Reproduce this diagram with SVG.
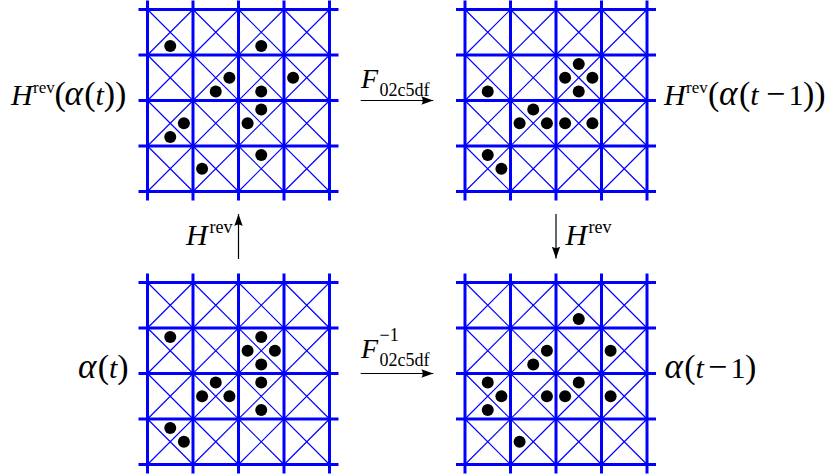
<svg xmlns="http://www.w3.org/2000/svg" width="826" height="476" viewBox="0 0 826 476">
<style>
.thick{stroke:#0000ff;stroke-width:3;fill:none}
.thin{stroke:#0000ff;stroke-width:1.2;fill:none}
.dots circle{fill:#000}
.lbl{font-family:"Liberation Serif","Times New Roman",serif;font-size:30px;fill:#000}
.sm{font-size:18px}
.sp{font-size:17px}
.pa{font-size:34px}
.al{font-size:35px;font-style:italic}
.mi{font-size:34px}
.it{font-style:italic}
.arr{stroke:#000;stroke-width:1.2;fill:none;marker-end:url(#ah)}
</style>
<defs>
<marker id="ah" markerUnits="userSpaceOnUse" markerWidth="14" markerHeight="10" refX="12" refY="5" orient="auto"><path d="M12,5 L0,0.8 Q3,5 0,9.2 Z" fill="#000"/></marker>
<g id="lattice">
<path class="thin" d="M0,0L182,182 M45.5,0L182,136.5 M91,0L182,91 M136.5,0L182,45.5 M0,45.5L136.5,182 M0,91L91,182 M0,136.5L45.5,182 M0,182L182,0 M0,136.5L136.5,0 M0,91L91,0 M0,45.5L45.5,0 M45.5,182L182,45.5 M91,182L182,91 M136.5,182L182,136.5"/>
<path class="thick" d="M-9,0H191 M-9,45.5H191 M-9,91H191 M-9,136.5H191 M-9,182H191 M0,-9V191 M45.5,-9V191 M91,-9V191 M136.5,-9V191 M182,-9V191"/>
</g>
</defs>

<g id="grid-top-left" transform="translate(147.5,9.5)">
<use href="#lattice"/>
<g class="dots">
<circle cx="22.75" cy="36.4" r="6"/><circle cx="113.75" cy="36.4" r="6"/>
<circle cx="81.9" cy="68.25" r="6"/><circle cx="145.6" cy="68.25" r="6"/>
<circle cx="68.25" cy="81.9" r="6"/><circle cx="113.75" cy="81.9" r="6"/>
<circle cx="113.75" cy="100.1" r="6"/><circle cx="36.4" cy="113.75" r="6"/>
<circle cx="100.1" cy="113.75" r="6"/><circle cx="22.75" cy="127.4" r="6"/>
<circle cx="113.75" cy="145.6" r="6"/><circle cx="54.6" cy="159.25" r="6"/>
</g>
</g>

<g id="grid-top-right" transform="translate(465,9.5)">
<use href="#lattice"/>
<g class="dots">
<circle cx="113.75" cy="54.6" r="6"/><circle cx="100.1" cy="68.25" r="6"/>
<circle cx="127.4" cy="68.25" r="6"/><circle cx="113.75" cy="81.9" r="6"/>
<circle cx="22.75" cy="81.9" r="6"/><circle cx="68.25" cy="100.1" r="6"/>
<circle cx="54.6" cy="113.75" r="6"/><circle cx="81.9" cy="113.75" r="6"/>
<circle cx="100.1" cy="113.75" r="6"/><circle cx="127.4" cy="113.75" r="6"/>
<circle cx="22.75" cy="145.6" r="6"/><circle cx="36.4" cy="159.25" r="6"/>
</g>
</g>

<g id="grid-bottom-left" transform="translate(147.5,282.5)">
<use href="#lattice"/>
<g class="dots">
<circle cx="22.75" cy="54.6" r="6"/><circle cx="113.75" cy="54.6" r="6"/>
<circle cx="100.1" cy="68.25" r="6"/><circle cx="127.4" cy="68.25" r="6"/>
<circle cx="113.75" cy="81.9" r="6"/><circle cx="113.75" cy="100.1" r="6"/>
<circle cx="68.25" cy="100.1" r="6"/><circle cx="54.6" cy="113.75" r="6"/>
<circle cx="81.9" cy="113.75" r="6"/><circle cx="113.75" cy="127.4" r="6"/>
<circle cx="22.75" cy="145.6" r="6"/><circle cx="36.4" cy="159.25" r="6"/>
</g>
</g>

<g id="grid-bottom-right" transform="translate(465,282.5)">
<use href="#lattice"/>
<g class="dots">
<circle cx="113.75" cy="36.4" r="6"/><circle cx="81.9" cy="68.25" r="6"/>
<circle cx="68.25" cy="81.9" r="6"/><circle cx="145.6" cy="68.25" r="6"/>
<circle cx="22.75" cy="100.1" r="6"/><circle cx="36.4" cy="113.75" r="6"/>
<circle cx="22.75" cy="127.4" r="6"/><circle cx="113.75" cy="100.1" r="6"/>
<circle cx="81.9" cy="113.75" r="6"/><circle cx="100.1" cy="113.75" r="6"/>
<circle cx="145.6" cy="113.75" r="6"/><circle cx="54.6" cy="159.25" r="6"/>
</g>
</g>

<g id="labels" class="lbl">
<text id="label-top-left" y="105"><tspan class="it" x="11">H</tspan><tspan class="sp" x="33" y="93">rev</tspan><tspan class="pa" x="54.5" y="105">(</tspan><tspan class="al" x="64.5">α</tspan><tspan class="pa" x="84.2">(</tspan><tspan class="it" x="95.5">t</tspan><tspan class="pa" x="103.8">)</tspan><tspan class="pa" x="115.1">)</tspan></text>
<text id="label-top-right" y="105"><tspan class="it" x="664">H</tspan><tspan class="sp" x="686" y="93">rev</tspan><tspan class="pa" x="708" y="105">(</tspan><tspan class="al" x="719">α</tspan><tspan class="pa" x="739">(</tspan><tspan class="it" x="750.3">t</tspan><tspan class="mi" x="766">−</tspan><tspan x="788.5">1</tspan><tspan class="pa" x="803">)</tspan><tspan class="pa" x="814.3">)</tspan></text>
<text id="label-bottom-left" y="378"><tspan class="al" x="78">α</tspan><tspan class="pa" x="97.7">(</tspan><tspan class="it" x="109">t</tspan><tspan class="pa" x="117.3">)</tspan></text>
<text id="label-bottom-right" y="378"><tspan class="al" x="664.5">α</tspan><tspan class="pa" x="684.2">(</tspan><tspan class="it" x="695.5">t</tspan><tspan class="mi" x="708">−</tspan><tspan x="730.5">1</tspan><tspan class="pa" x="745">)</tspan></text>
</g>

<g id="connectors">
<path class="arr" d="M360.7,100.5H433.3"/>
<path class="arr" d="M360.7,373.5H433.3"/>
<path class="arr" d="M238.5,259V214"/>
<path class="arr" d="M556,214V258.5"/>
<g class="lbl">
<text x="361" y="88" style="font-size:28px"><tspan class="it">F</tspan><tspan class="sm" dx="1.5" dy="8">02c5df</tspan></text>
<text x="361" y="358" class="it" style="font-size:28px">F</text>
<text x="379.5" y="341" class="sm">−1</text>
<text x="379.5" y="366" class="sm">02c5df</text>
<text y="245"><tspan class="it" x="186">H</tspan><tspan class="sm" x="209.5" y="233">rev</tspan></text>
<text y="245"><tspan class="it" x="565.5">H</tspan><tspan class="sm" x="588.5" y="233">rev</tspan></text>
</g>
</g>
</svg>
